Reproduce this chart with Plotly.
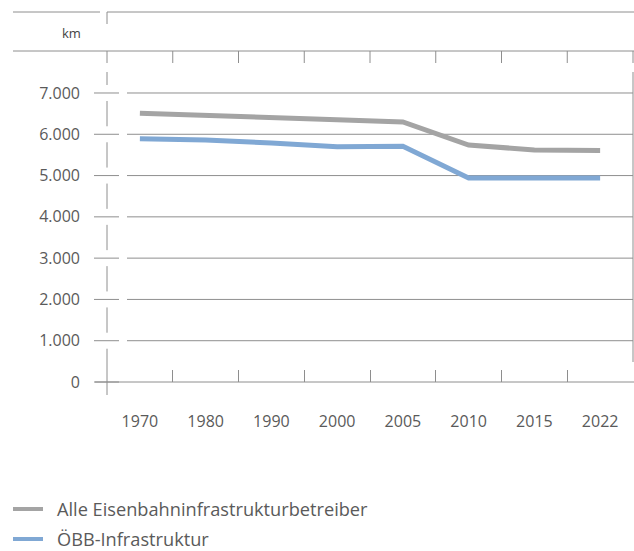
import plotly.graph_objects as go

# Streckenlänge (km) nach Jahr
YEARS = ["1970", "1980", "1990", "2000", "2005", "2010", "2015", "2022"]
ALLE = [6510, 6450, 6380, 6350, 6300, 5740, 5620, 5610]
OEBB = [5890, 5860, 5790, 5700, 5710, 4940, 4940, 4940]
Y_TICKS = [0, 1000, 2000, 3000, 4000, 5000, 6000, 7000]
Y_TICKTEXT = ["0", "1.000", "2.000", "3.000", "4.000", "5.000", "6.000", "7.000"]
SERIES_NAMES = ["Alle Eisenbahninfrastrukturbetreiber", "ÖBB-Infrastruktur"]

W, H = 634, 551
ML, MR, MT, MB = 107, 1, 51, 169
PW, PH = W - ML - MR, H - MT - MB
Y_MAX = 8017

GRAY = "#a4a4a4"
BLUE = "#80a8d4"
RULE = "#8e8e8e"
TEXT = "#5a5a5a"
FONT = "Open Sans"


def px(x):
    return (x - ML) / PW


def py(y):
    return (H - MB - y) / PH


def vy(v):
    return v / Y_MAX


def seg(x0, y0, x1, y1, color=RULE, width=1):
    return dict(type="line", xref="paper", yref="paper", x0=x0, y0=y0, x1=x1, y1=y1,
                line=dict(color=color, width=width), layer="below")


series = [(SERIES_NAMES[0], ALLE, GRAY), (SERIES_NAMES[1], OEBB, BLUE)]

fig = go.Figure()
for name, vals, color in series:
    fig.add_trace(go.Scatter(x=YEARS, y=vals, mode="lines", name=name,
                             line=dict(color=color, width=5), showlegend=False,
                             hovertemplate="%{x}: %{y:,.0f} km<extra>" + name + "</extra>"))

shapes = []
# header rules
shapes.append(seg(px(13), py(12), px(100), py(12)))
shapes.append(seg(px(107), py(12), px(634), py(12)))
shapes.append(seg(px(107), py(12), px(107), py(24)))
shapes.append(seg(px(13), 1, px(634), 1))
# top ticks on category boundaries
n = len(YEARS)
for i in range(n + 1):
    shapes.append(seg(i / n, 1, i / n, py(63)))
# horizontal grid + y tick marks
gap = 8 / PH  # paper units
for v in Y_TICKS:
    if v > 0:
        shapes.append(seg(px(127), vy(v), 1, vy(v)))
    shapes.append(seg(px(94), vy(v), px(119), vy(v)))
# broken vertical axis
shapes.append(seg(0, py(72), 0, vy(Y_TICKS[-1]) + gap))
for a, b in zip(Y_TICKS[1:-1], Y_TICKS[2:]):
    shapes.append(seg(0, vy(a) + gap, 0, vy(b) - gap))
shapes.append(seg(0, py(395), 0, vy(Y_TICKS[1]) - gap))
# baseline and right edge
shapes.append(seg(px(95), 0, px(634), 0))
shapes.append(seg(px(633), py(72), px(633), py(362)))

# unit label and legend below the chart
annotations = [dict(text="km", xref="paper", yref="paper", x=px(71), y=py(33),
                    xanchor="center", yanchor="middle", showarrow=False,
                    font=dict(family=FONT, size=13, color="#444"))]
for k, (name, _, color) in enumerate(series):
    yrow = 509 + 30 * k
    shapes.append(seg(px(13), py(yrow), px(43), py(yrow), color=color, width=4))
    annotations.append(dict(text=name, xref="paper", yref="paper", x=px(55), y=py(yrow),
                            xanchor="left", yanchor="middle", showarrow=False,
                            font=dict(family=FONT, size=18.2, color=TEXT)))

fig.update_layout(
    width=W, height=H,
    margin=dict(l=ML, r=MR, t=MT, b=MB),
    paper_bgcolor="white", plot_bgcolor="white",
    font=dict(family=FONT, size=16, color=TEXT),
    shapes=shapes,
    annotations=annotations,
    showlegend=False,
    xaxis=dict(type="category", categoryorder="array", categoryarray=YEARS,
               range=[-0.5, n - 0.5], tickson="boundaries", ticks="inside",
               ticklen=12, tickcolor=RULE, tickwidth=1, showline=False,
               showgrid=False, zeroline=False, ticklabelstandoff=28,
               tickfont=dict(family=FONT, size=16, color=TEXT), fixedrange=True),
    yaxis=dict(range=[0, Y_MAX], tickvals=Y_TICKS, ticktext=Y_TICKTEXT, ticks="",
               showline=False, showgrid=False, zeroline=False, ticklabelstandoff=26,
               tickfont=dict(family=FONT, size=16, color=TEXT), fixedrange=True),
)

fig.write_html("out.html")
